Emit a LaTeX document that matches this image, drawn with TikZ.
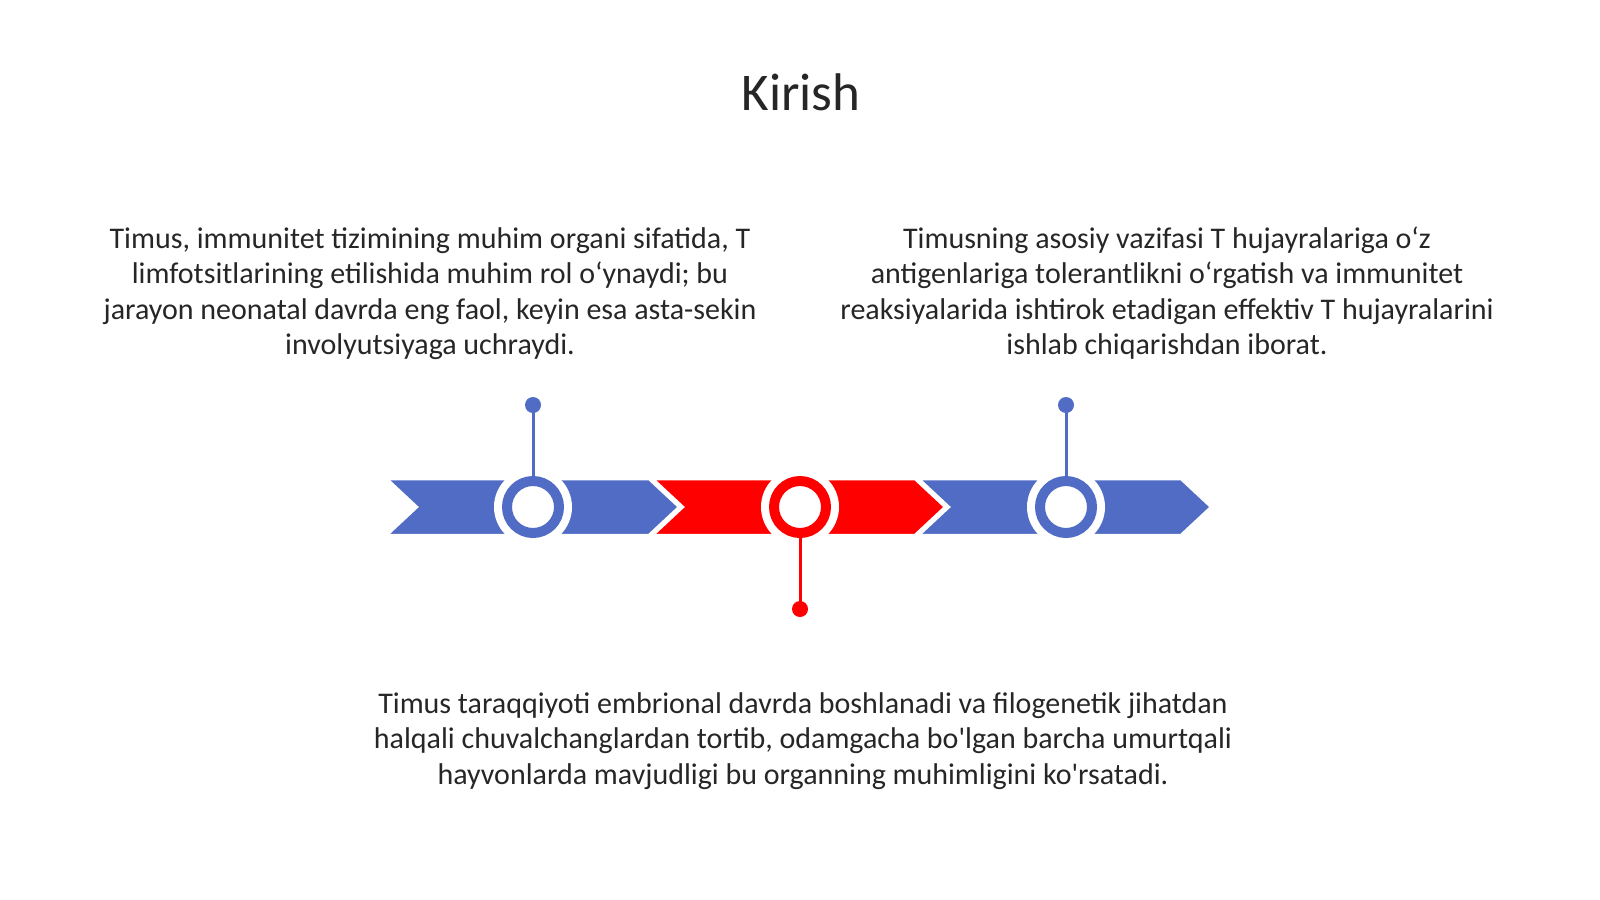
\documentclass[tikz,border=0pt]{standalone}
\usepackage{fontspec}
\setmainfont{Carlito}
\newfontfamily\plainfont{Carlito}
\newcommand{\sq}{{\plainfont\char39}}
\definecolor{tlblue}{RGB}{80,108,196}
\definecolor{tlred}{RGB}{255,0,0}
\definecolor{txt}{RGB}{38,38,38}
\begin{document}
\begin{tikzpicture}[x=1pt,y=-1pt,
  chev/.style={draw=white,line width=2.5pt,line join=miter},
  halo/.style={fill=white},
  ring/.style={draw=#1,line width=10pt,fill=white},
  stem/.style={draw=#1,line width=3pt},
  dot/.style={circle,fill=#1,inner sep=0pt,minimum size=16pt},
  body/.style={align=center,font=\fontsize{30}{35.5}\selectfont,text=txt,inner sep=0pt}]
\useasboundingbox (0,0) rectangle (1600,899);
% title
\node[font=\fontsize{53}{60}\selectfont,text=txt,anchor=base,inner sep=0pt] (title) at (801,110) {Kirish};
% chevrons
\foreach \x/\c [count=\i] in {387/tlblue,653/tlred,919/tlblue}{
  \fill[\c,chev] (\x,479) -- (\x+262,479) -- (\x+292,507) -- (\x+262,535) -- (\x,535) -- (\x+30,507) -- cycle;
}
% circles
\coordinate (c1) at (533,507);
\coordinate (c2) at (800,507);
\coordinate (c3) at (1066,507);
\fill[halo] (c1) circle (39);
\fill[halo] (c2) circle (39);
\fill[halo] (c3) circle (39);
\draw[ring=tlblue] (c1) circle (26);
\draw[ring=tlred] (c2) circle (26);
\draw[ring=tlblue] (c3) circle (26);
% stems and dots
\node[dot=tlblue] (d1) at (533,405) {};
\node[dot=tlred] (d2) at (800,609) {};
\node[dot=tlblue] (d3) at (1066,405) {};
\coordinate (t1) at (533,476);
\coordinate (t2) at (800,538);
\coordinate (t3) at (1066,476);
\draw[stem=tlblue] (d1.center) -- (t1);
\draw[stem=tlred] (d2.center) -- (t2);
\draw[stem=tlblue] (d3.center) -- (t3);
% texts
\node[body,anchor=base] (left) at (430,354.5) {Timus, immunitet tizimining muhim organi sifatida, T\\limfotsitlarining etilishida muhim rol o‘ynaydi; bu\\jarayon neonatal davrda eng faol, keyin esa asta-sekin\\involyutsiyaga uchraydi.};
\node[body,anchor=base] (right) at (1167,354.5) {Timusning asosiy vazifasi T hujayralariga o‘z\\antigenlariga tolerantlikni o‘rgatish va immunitet\\reaksiyalarida ishtirok etadigan effektiv T hujayralarini\\ishlab chiqarishdan iborat.};
\node[body,anchor=base] (bottom) at (803,784) {Timus taraqqiyoti embrional davrda boshlanadi va filogenetik jihatdan\\halqali chuvalchanglardan tortib, odamgacha bo\sq lgan barcha umurtqali\\hayvonlarda mavjudligi bu organning muhimligini ko\sq rsatadi.};
\end{tikzpicture}
\end{document}
